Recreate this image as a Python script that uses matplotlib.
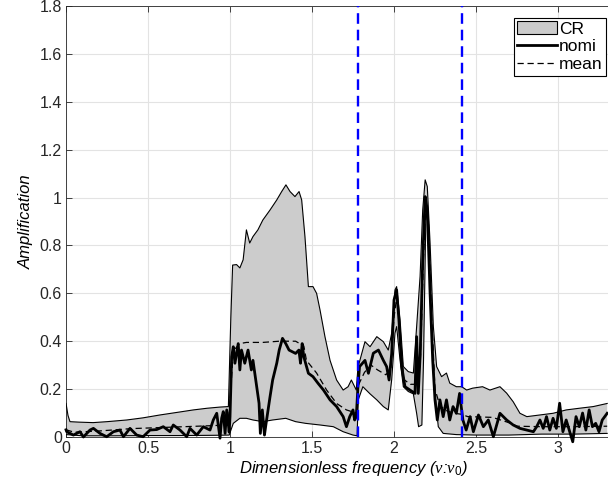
import numpy as np
import matplotlib
matplotlib.use("Agg")
import matplotlib.pyplot as plt
from matplotlib.patches import Patch
from matplotlib.lines import Line2D
from matplotlib.ticker import FuncFormatter

plt.rcParams['font.family'] = ['Liberation Sans', 'DejaVu Sans']
plt.rcParams['mathtext.fontset'] = 'custom'
plt.rcParams['mathtext.it'] = 'Liberation Serif:italic'
plt.rcParams['mathtext.rm'] = 'Liberation Sans'

# upper envelope of the CR band
upper_x = [0.0, 0.012, 0.024, 0.08, 0.165, 0.25, 0.37, 0.47, 0.573, 0.68, 0.776, 0.86, 0.94, 0.99,
           1.005, 1.016, 1.04, 1.06, 1.08, 1.10, 1.12, 1.14, 1.17, 1.20, 1.244, 1.285, 1.315, 1.341,
           1.366, 1.396, 1.421, 1.437, 1.457, 1.478, 1.506, 1.528, 1.549, 1.579, 1.61, 1.65, 1.69,
           1.72, 1.74, 1.77, 1.78, 1.823, 1.854, 1.895, 1.935, 1.965, 1.986, 2.006, 2.016, 2.037,
           2.057, 2.087, 2.118, 2.138, 2.159, 2.175, 2.19, 2.203, 2.22, 2.24, 2.26, 2.29, 2.32, 2.34,
           2.38, 2.413, 2.443, 2.48, 2.54, 2.585, 2.646, 2.687, 2.727, 2.768, 2.81, 2.89, 2.97, 3.05,
           3.13, 3.215, 3.30]
upper_y = [0.14, 0.09, 0.064, 0.062, 0.06, 0.064, 0.071, 0.08, 0.092, 0.103, 0.113, 0.12, 0.125, 0.127,
           0.5, 0.718, 0.72, 0.706, 0.74, 0.865, 0.81, 0.837, 0.865, 0.906, 0.948, 0.99, 1.025, 1.053,
           1.025, 1.004, 1.025, 0.99, 0.837, 0.628, 0.628, 0.60, 0.53, 0.419, 0.32, 0.238, 0.196,
           0.21, 0.238, 0.196, 0.29, 0.398, 0.377, 0.419, 0.398, 0.363, 0.434, 0.614, 0.628, 0.489,
           0.294, 0.273, 0.267, 0.461, 0.67, 0.948, 1.074, 1.046, 0.81, 0.461, 0.294, 0.252, 0.267, 0.225,
           0.21, 0.21, 0.196, 0.204, 0.21, 0.196, 0.21, 0.183, 0.147, 0.099, 0.085, 0.092, 0.099, 0.113,
           0.12, 0.127, 0.14]

# lower envelope of the CR band
lower_x = [0.0, 0.1, 0.3, 0.5, 0.7, 0.9, 0.995, 1.02, 1.06, 1.10, 1.14, 1.20, 1.26, 1.34, 1.40, 1.46,
           1.55, 1.63, 1.69, 1.75, 1.775, 1.782, 1.81, 1.854, 1.895, 1.935, 1.965, 1.986, 2.006, 2.016,
           2.037, 2.057, 2.087, 2.118, 2.138, 2.15, 2.17, 2.18, 2.195, 2.21, 2.23, 2.25, 2.27, 2.30,
           2.38, 2.5, 2.7, 2.9, 3.1, 3.3]
lower_y = [0.01, 0.005, 0.005, 0.006, 0.006, 0.007, 0.008, 0.057, 0.078, 0.078, 0.071, 0.064, 0.071,
           0.078, 0.064, 0.057, 0.05, 0.043, 0.022, 0.008, 0.005, 0.155, 0.21, 0.18, 0.155, 0.127, 0.113,
           0.24, 0.434, 0.461, 0.32, 0.21, 0.19, 0.18, 0.099, 0.043, 0.05, 0.32, 0.948, 0.878, 0.461,
           0.18, 0.043, 0.015, 0.01, 0.008, 0.008, 0.012, 0.012, 0.015]

# nominal response
nomi_x = [0.0, 0.004, 0.045, 0.085, 0.106, 0.146, 0.167, 0.207, 0.248, 0.289, 0.329, 0.35, 0.39, 0.431,
          0.47, 0.512, 0.553, 0.593, 0.634, 0.654, 0.695, 0.736, 0.756, 0.797, 0.837, 0.878, 0.898,
          0.919, 0.939, 0.949, 0.959, 0.97, 0.98, 0.995, 1.0, 1.01, 1.02, 1.03, 1.05, 1.06, 1.07, 1.09,
          1.11, 1.13, 1.14, 1.16, 1.177, 1.185, 1.197, 1.21, 1.22, 1.244, 1.26, 1.285, 1.30, 1.32, 1.34,
          1.36, 1.38, 1.40, 1.42, 1.43, 1.44, 1.45, 1.478, 1.506, 1.537, 1.57, 1.61, 1.65, 1.69, 1.71,
          1.73, 1.75, 1.76, 1.77, 1.78, 1.79, 1.823, 1.844, 1.874, 1.905, 1.935, 1.955, 1.97, 1.986,
          2.0, 2.016, 2.03, 2.047, 2.067, 2.098, 2.128, 2.138, 2.148, 2.16, 2.175, 2.19, 2.203, 2.22,
          2.236, 2.25, 2.264, 2.28, 2.30, 2.32, 2.34, 2.36, 2.38, 2.40, 2.42, 2.44, 2.464, 2.484, 2.515,
          2.545, 2.575, 2.606, 2.646, 2.687, 2.727, 2.768, 2.809, 2.85, 2.87, 2.89, 2.91, 2.93, 2.95,
          2.97, 2.99, 3.01, 3.03, 3.05, 3.09, 3.11, 3.13, 3.15, 3.17, 3.19, 3.21, 3.23, 3.25, 3.27, 3.30]
nomi_y = [0.03, 0.022, 0.008, 0.022, 0.0, 0.029, 0.036, 0.015, 0.001, 0.022, 0.029, 0.001, 0.036, 0.008,
          0.001, 0.029, 0.031, 0.043, 0.022, 0.05, 0.029, 0.001, 0.036, 0.008, 0.043, 0.029, 0.071,
          0.099, -0.005, 0.078, 0.106, 0.015, 0.113, 0.02, 0.085, 0.335, 0.377, 0.308, 0.39, 0.28, 0.363,
          0.308, 0.363, 0.28, 0.32, 0.224, 0.141, 0.015, 0.113, 0.008, 0.057, 0.168, 0.238, 0.308, 0.363,
          0.412, 0.39, 0.363, 0.356, 0.349, 0.363, 0.308, 0.39, 0.335, 0.266, 0.252, 0.224, 0.196,
          0.155, 0.127, 0.085, 0.043, 0.085, 0.113, 0.071, 0.085, 0.21, 0.294, 0.32, 0.266, 0.35, 0.363,
          0.32, 0.294, 0.238, 0.349, 0.572, 0.614, 0.489, 0.294, 0.21, 0.196, 0.182, 0.419, 0.182,
          0.349, 0.739, 1.004, 0.948, 0.6, 0.32, 0.155, 0.071, 0.155, 0.085, 0.155, 0.071, 0.127, 0.099,
          0.182, 0.071, 0.029, 0.085, 0.022, 0.092, 0.043, 0.071, 0.001, 0.099, 0.071, 0.05, 0.036,
          0.029, 0.022, 0.043, 0.071, 0.036, 0.085, 0.029, 0.078, 0.036, 0.141, 0.022, 0.071, -0.02,
          0.085, 0.043, 0.1, 0.029, 0.113, 0.043, 0.057, 0.022, 0.071, 0.099]

# mean response
mean_x = [0.0, 0.05, 0.2, 0.4, 0.6, 0.8, 0.99, 1.02, 1.06, 1.10, 1.2, 1.3, 1.4, 1.45, 1.466, 1.528,
          1.589, 1.65, 1.71, 1.77, 1.785, 1.82, 1.86, 1.9, 1.95, 1.98, 2.0, 2.016, 2.035, 2.06, 2.1,
          2.13, 2.16, 2.18, 2.195, 2.21, 2.23, 2.25, 2.28, 2.32, 2.36, 2.41, 2.45, 2.6, 2.7, 2.75, 2.9,
          3.1, 3.3]
mean_y = [0.03, 0.02, 0.025, 0.035, 0.04, 0.045, 0.05, 0.36, 0.39, 0.395, 0.395, 0.40, 0.40, 0.38,
          0.32, 0.267, 0.196, 0.14, 0.113, 0.10, 0.22, 0.27, 0.3, 0.28, 0.26, 0.28, 0.5, 0.58, 0.45,
          0.24, 0.22, 0.22, 0.3, 0.75, 0.98, 0.9, 0.5, 0.2, 0.13, 0.11, 0.1, 0.095, 0.085, 0.082, 0.06,
          0.045, 0.043, 0.043, 0.045]

vlines_x = [1.78, 2.415]

fig = plt.figure(figsize=(6.08, 4.95), dpi=100)
ax = fig.add_axes([0.1086, 0.1172, 0.944, 0.8707])

poly_x = upper_x + lower_x[::-1]
poly_y = upper_y + lower_y[::-1]
ax.fill(poly_x, poly_y, color='#cccccc', lw=0, zorder=2)
ax.plot(upper_x, upper_y, color='k', lw=0.8, zorder=3)
ax.plot(lower_x, lower_y, color='k', lw=0.8, zorder=3)
ax.plot(mean_x, mean_y, color='k', lw=0.9, dashes=(5, 3), zorder=4)
ax.plot(nomi_x, nomi_y, color='k', lw=2.0, zorder=5, clip_on=False)

for xv in vlines_x:
    ax.plot([xv, xv], [0, 1.8], color='blue', lw=1.7, dashes=(4.5, 2.5), zorder=6)

ax.set_xlim(0, 3.5)
ax.set_ylim(0, 1.8)
ax.set_xticks(np.arange(0, 3.01, 0.5))
ax.set_yticks(np.arange(0, 1.81, 0.2))
fmt = FuncFormatter(lambda v, p: '%g' % round(v, 2))
ax.xaxis.set_major_formatter(fmt)
ax.yaxis.set_major_formatter(fmt)
ax.tick_params(direction='in', length=4, width=0.6, colors='#262626', labelsize=11.5,
               top=True, right=True, pad=3)
ax.grid(True, color='#e3e3e3', lw=0.8, zorder=0)
ax.set_axisbelow(True)
for s in ax.spines.values():
    s.set_color('#262626')
    s.set_linewidth(0.6)

ax.set_xlabel(r'Dimensionless frequency ($\nu$:$\nu_0$)', fontsize=12, style='italic', labelpad=2)
ax.set_ylabel('Amplification', fontsize=12, style='italic', labelpad=4)

handles = [Patch(facecolor='#cccccc', edgecolor='k', lw=0.8),
           Line2D([], [], color='k', lw=2.0),
           Line2D([], [], color='k', lw=0.9, dashes=(5, 3))]
leg = fig.legend(handles, ['CR', 'nomi', 'mean'], loc='upper right',
                 bbox_to_anchor=(606 / 608, 1 - 18 / 495), fontsize=12.5,
                 handlelength=2.3, handletextpad=0.1, labelspacing=0.15,
                 borderpad=0.2, borderaxespad=0, fancybox=False, framealpha=1)
leg.get_frame().set_edgecolor('k')
leg.get_frame().set_linewidth(0.8)

fig.savefig('out.png', dpi=100)
